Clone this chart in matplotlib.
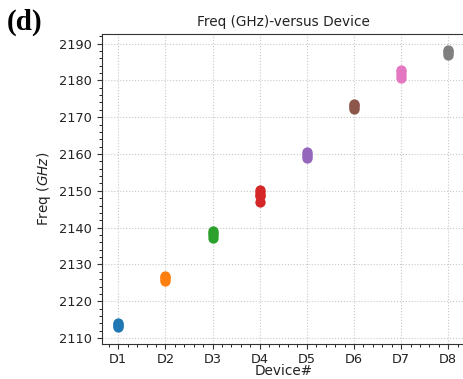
import matplotlib
matplotlib.use("Agg")
import matplotlib.pyplot as plt
from matplotlib.ticker import MultipleLocator

devices = ["D1", "D2", "D3", "D4", "D5", "D6", "D7", "D8"]
freqs = [
    [2113.0, 2113.4, 2113.8, 2114.0],
    [2125.5, 2126.0, 2126.5, 2126.8],
    [2137.3, 2138.0, 2138.6, 2139.2],
    [2147.0, 2148.5, 2149.0, 2149.6, 2150.2],
    [2158.9, 2159.5, 2160.0, 2160.5],
    [2172.2, 2172.8, 2173.2, 2173.5],
    [2180.6, 2181.4, 2182.2, 2182.8],
    [2186.9, 2187.4, 2187.9, 2188.2],
]
colors = ["#1f77b4", "#ff7f0e", "#2ca02c", "#d62728",
          "#9467bd", "#8c564b", "#e377c2", "#7f7f7f"]

fig = plt.figure(figsize=(4.63, 3.79), dpi=100)
ax = fig.add_axes([0.2197, 0.0923, 0.784, 0.818])

for i, (vals, c) in enumerate(zip(freqs, colors)):
    ax.scatter([i] * len(vals), vals, s=55, color=c, zorder=3, linewidths=0)

ax.set_xlim(-0.35, 7.35)
ax.set_ylim(2108.4, 2192.6)
ax.set_xticks(range(len(devices)))
ax.set_xticklabels(devices)
ax.yaxis.set_major_locator(MultipleLocator(10))
ax.yaxis.set_minor_locator(MultipleLocator(2))
ax.xaxis.set_minor_locator(MultipleLocator(0.2))
ax.tick_params(labelsize=9.3, colors="#333333", labelcolor="#222222")
ax.tick_params(axis="x", pad=3)
ax.tick_params(which="minor", length=2)
ax.grid(True, which="major", linestyle=":", color="#c8c8c8", linewidth=0.8)
for sp in ax.spines.values():
    sp.set_color("#333333")

ax.set_title("Freq (GHz)-versus Device", fontsize=9.8, color="#222222", pad=6)
ax.set_xlabel("Device#", fontsize=9.8, color="#222222")
ax.xaxis.set_label_coords(0.5, -0.066)
ax.set_ylabel("Freq ($GHz$)", fontsize=9.8, color="#222222")

fig.text(0.015, 0.94, "(d)", fontsize=21, fontweight="bold",
         family="Liberation Serif", ha="left", va="center")

fig.savefig("out.png", dpi=100)
